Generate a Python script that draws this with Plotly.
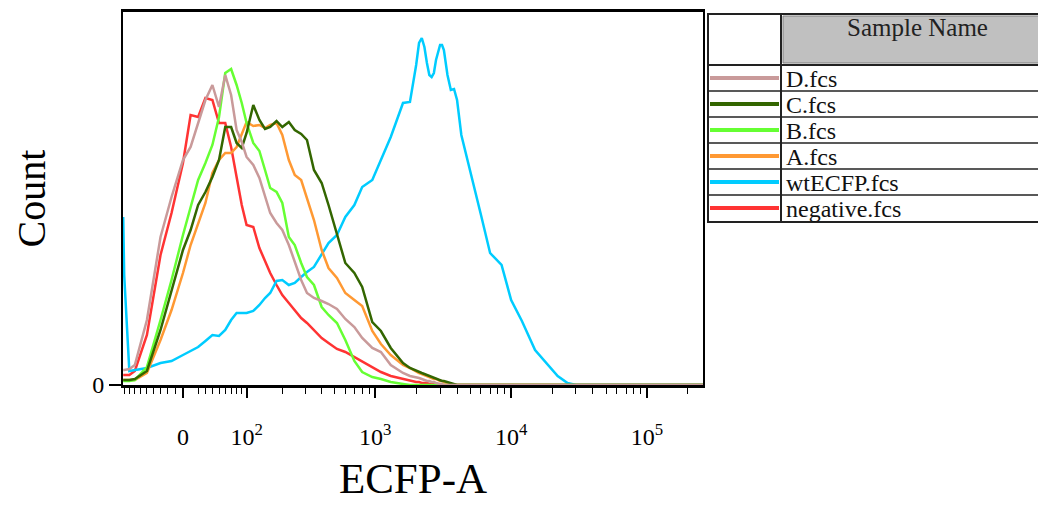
import numpy as np
import plotly.graph_objects as go

# ECFP-A channel values (x grid shared by every histogram)
ecfp = [-92, -90, -80, -70, -50, -30, -15, 0, 10, 20, 30, 40, 50, 60, 70, 80, 90, 100,
        115, 130, 145, 160, 180, 200, 225, 250, 280, 310, 350, 400, 450, 520, 600, 700,
        800, 950, 1100, 1300, 1600, 1800, 2000, 2100, 2200, 2300, 2400, 2500, 2600, 2700,
        2800, 3000, 3100, 3200, 3400, 3600, 3800, 4000, 4300, 5000, 6000, 7000, 8500,
        10000, 12000, 15000, 18000, 22000, 26000, 30000, 260000]

# counts per bin
d_fcs = [15, 15, 16, 20, 65, 148, 188, 225, 238, 262, 285, 300, 278, 310, 290, 255, 243, 228,
         220, 207, 188, 172, 162, 155, 140, 123, 105, 92, 87, 84, 81, 76, 66, 58, 47, 37, 33,
         20, 12, 9, 8, 7, 6, 5, 4, 4, 3, 3, 2, 1, 1, 0] + [0] * 17
c_fcs = [5, 5, 5, 6, 14, 55, 95, 135, 155, 180, 193, 208, 225, 258, 258, 242, 237, 252, 280,
         265, 256, 258, 264, 258, 263, 255, 251, 245, 215, 202, 180, 150, 122, 112, 98, 63,
         54, 37, 22, 17, 14, 13, 12, 11, 10, 9, 8, 7, 6, 5, 4, 4, 3, 2, 1, 0] + [0] * 13
b_fcs = [4, 4, 4, 5, 18, 65, 105, 150, 178, 205, 222, 240, 268, 312, 316, 300, 282, 262, 242,
         234, 215, 197, 193, 182, 148, 140, 122, 108, 100, 78, 70, 62, 45, 24, 13, 8, 6, 3,
         1, 0] + [0] * 29
a_fcs = [5, 5, 5, 5, 12, 45, 75, 112, 140, 162, 182, 212, 225, 232, 232, 238, 252, 263, 259,
         260, 257, 260, 262, 250, 225, 210, 205, 187, 165, 135, 117, 107, 92, 85, 79, 54, 41,
         30, 20, 17, 13, 12, 11, 10, 9, 8, 7, 6, 6, 4, 4, 3, 2, 1, 0] + [0] * 14
wt_fcs = [168, 110, 14, 15, 17, 22, 24, 30, 34, 38, 44, 50, 49, 55, 65, 72, 72, 72, 74, 80,
          87, 92, 104, 105, 100, 102, 108, 113, 118, 130, 142, 150, 168, 180, 198, 205, 225,
          248, 282, 283, 320, 342, 347, 338, 322, 310, 308, 312, 325, 340, 340, 335, 310,
          295, 296, 285, 250, 215, 170, 132, 120, 85, 64, 35, 23, 9, 2, 0, 0]
neg_fcs = [10, 10, 10, 14, 50, 130, 172, 222, 270, 268, 287, 285, 262, 262, 238, 208, 180,
           160, 158, 137, 123, 112, 100, 90, 82, 75, 67, 62, 55, 47, 42, 36, 33, 28, 23, 18,
           13, 9, 6, 5, 3, 3, 2, 2, 2, 1, 1, 1, 0] + [0] * 20

samples = ["D.fcs", "C.fcs", "B.fcs", "A.fcs", "wtECFP.fcs", "negative.fcs"]
counts = [d_fcs, c_fcs, b_fcs, a_fcs, wt_fcs, neg_fcs]
colors = ["#C99A9A", "#336600", "#66FF33", "#FF9933", "#00CCFF", "#FF3333"]

major_vals = [0, 100, 1000, 10000, 100000]
major_text = ["0"] + ['10<sup style="font-size:23px">%d</sup>' % e for e in (2, 3, 4, 5)]
minor_vals = ([-90, -80, -70, -60, -50, -40, -30, -20, -10] + list(range(20, 100, 10))
              + list(range(200, 1000, 100)) + list(range(2000, 10000, 1000))
              + list(range(20000, 100000, 10000)) + [200000])


def biex(v):
    # arcsinh display transform (linear near zero, log for large values)
    return np.arcsinh(np.asarray(v, dtype=float) / 77.0)


# the page body adds an 8px margin, so the figure is drawn 8px smaller
OFF = 8
W, H = 1046 - OFF, 507 - OFF
L, R, T, B = 123, 703, 12, 385


def px(x):
    return (x - L) / (R - L)


def py(y):
    return (B - y) / (B - T)


fig = go.Figure()

# draw negative first so D ends up on top
for name, y, col in reversed(list(zip(samples, counts, colors))):
    fig.add_trace(go.Scatter(x=biex(ecfp), y=y, mode="lines", name=name,
                             line=dict(color=col, width=2.5), showlegend=False))

# legend drawn as the table on the right
shapes = []
shapes.append(dict(type="rect", x0=px(783), x1=px(1060), y0=py(16), y1=py(63),
                   fillcolor="#C0C0C0", line=dict(color="#808080", width=1)))
shapes.append(dict(type="rect", x0=px(708), x1=px(1060), y0=py(14), y1=py(222),
                   line=dict(color="#222222", width=2)))
shapes.append(dict(type="line", x0=px(781), x1=px(781), y0=py(14), y1=py(222),
                   line=dict(color="#222222", width=2)))
shapes.append(dict(type="line", x0=px(708), x1=px(1060), y0=py(65), y1=py(65),
                   line=dict(color="#222222", width=2)))
annotations = [dict(text="Sample Name", x=px(917), y=py(27), xanchor="center",
                    yanchor="middle", font=dict(size=25, color="#222222"))]
row_h = 26
for i, (name, col) in enumerate(zip(samples, colors)):
    top = 65 + i * row_h
    mid = top + row_h / 2
    if i > 0:
        shapes.append(dict(type="line", x0=px(708), x1=px(1060), y0=py(top), y1=py(top),
                           line=dict(color="#222222", width=1.5)))
    shapes.append(dict(type="line", x0=px(710), x1=px(779), y0=py(mid), y1=py(mid),
                       line=dict(color=col, width=4)))
    annotations.append(dict(text=name, x=px(784), y=py(mid + 1), xanchor="left",
                            yanchor="middle", font=dict(size=24, color="#111111")))

# y axis title
annotations.append(dict(text="Count", x=px(31), y=0.5, xanchor="center", yanchor="middle",
                        textangle=-90, font=dict(size=40, color="black")))

for s in shapes:
    s.setdefault("xref", "paper")
    s.setdefault("yref", "paper")
for a in annotations:
    a.update(xref="paper", yref="paper", showarrow=False)

fig.update_layout(
    width=W, height=H,
    margin=dict(l=L - OFF, r=W - (R - OFF), t=T - OFF, b=H - (B - OFF), pad=0),
    plot_bgcolor="white", paper_bgcolor="white",
    font=dict(family="Liberation Serif", color="black"),
    shapes=shapes, annotations=annotations,
)
fig.update_xaxes(
    range=[float(biex(-92.4)), float(biex(258000))],
    showline=True, linewidth=3, linecolor="black", mirror=True,
    showgrid=False, zeroline=False,
    tickmode="array", tickvals=biex(major_vals), ticktext=major_text,
    ticks="outside", ticklen=10, tickwidth=1.5, tickcolor="black",
    tickfont=dict(size=24), ticklabelstandoff=18,
    minor=dict(tickmode="array", tickvals=biex(minor_vals), ticks="outside",
               ticklen=6, tickwidth=1.2, tickcolor="black", showgrid=False),
    title=dict(text="ECFP-A", font=dict(size=43)),
    automargin=False,
)
fig.update_yaxes(
    range=[0, B - T],
    showline=True, linewidth=2, linecolor="black", mirror=True,
    showgrid=False, zeroline=False,
    tickmode="array", tickvals=[0], ticktext=["0"],
    ticks="outside", ticklen=12, tickwidth=1.5, tickcolor="black",
    tickfont=dict(size=24),
    automargin=False,
)

fig.write_html("out.html")
